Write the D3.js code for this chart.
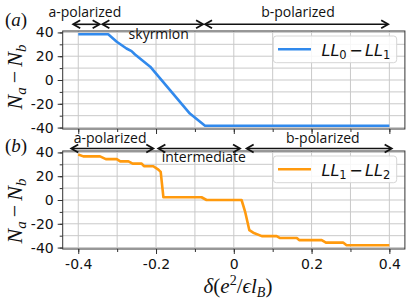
<!DOCTYPE html>
<html>
<head>
<meta charset="utf-8">
<script src="https://cdn.jsdelivr.net/npm/d3@7"></script>
<style>
  html, body { margin: 0; padding: 0; background: #fff; }
  svg { display: block; }
</style>
</head>
<body>
<div id="chart"></div>
<script>
// ---------- data ----------
const xTicks = [-0.4, -0.2, 0, 0.2, 0.4];
const xTickLabels = ["-0.4", "-0.2", "0", "0.2", "0.4"];
const xMinorTicks = [-0.4, -0.3, -0.2, -0.1, 0, 0.1, 0.2, 0.3, 0.4];
const yTicks = [40, 20, 0, -20, -40];
const yTickLabels = ["40", "20", "0", "-20", "-40"];
const yMinorTicks = [40, 30, 20, 10, 0, -10, -20, -30, -40];

// panel (a): LL0 - LL1
const deltaA = [-0.40, -0.323, -0.301, -0.276, -0.263, -0.254, -0.215, -0.164, -0.113, -0.074, 0.40];
const diffA  = [38.5, 38.5, 32.2, 26.5, 24.3, 21.4, 11.2, -8.5, -28.2, -38.5, -38.5];

// panel (b): LL1 - LL2
const deltaB = [-0.400, -0.387, -0.344, -0.329, -0.301, -0.292, -0.271, -0.260, -0.237, -0.231,
                -0.207, -0.194, -0.188, -0.181, -0.083, -0.070, 0.020, 0.029, 0.040, 0.050,
                 0.072, 0.110, 0.119, 0.162, 0.168, 0.226, 0.237, 0.281, 0.290, 0.400];
const diffB  = [38.3, 36.7, 36.7, 34.4, 34.4, 32.5, 32.5, 30.6, 30.6, 28.4,
                28.4, 25.5, 23.6, 2.3, 2.3, 0, 0, -9.7, -25.4, -27.5,
                -30.4, -30.4, -32, -32, -33.7, -33.7, -35.8, -35.8, -38.1, -38.1];

const seriesSubs = [["0", "1"], ["1", "2"]];
const seriesColors = ["#3189ec", "#ff9a0e"];

// phase regions (delta range of the arrow, delta where label is centred)
const phaseNamesA = ["a-polarized", "skyrmion", "b-polarized"];
const phaseFromA  = [-0.413, -0.338, -0.074];
const phaseToA    = [-0.345, -0.079, 0.397];
const phaseTextA  = [-0.383, -0.193, 0.165];
const phaseNamesB = ["a-polarized", "intermediate", "b-polarized"];
const phaseFromB  = [-0.418, -0.194, 0.033];
const phaseToB    = [-0.207, 0.016, 0.406];
const phaseTextB  = [-0.318, -0.077, 0.229];

// ---------- layout ----------
const W = 415, H = 307;
const svg = d3.select("#chart").append("svg").attr("width", W).attr("height", H);

const x = d3.scaleLinear().domain([-0.44, 0.44]).range([62.7, 404.9]);

const panels = [
  { top: 31, bottom: 129, xs: deltaA, ys: diffA, color: seriesColors[0], subs: seriesSubs[0],
    label: "a", names: phaseNamesA, from: phaseFromA, to: phaseToA, tx: phaseTextA,
    arrowY: 24.3, aboveY: 17, belowY: 38.5, labelY: 26, ylabCenter: 77, showX: false },
  { top: 151, bottom: 249, xs: deltaB, ys: diffB, color: seriesColors[1], subs: seriesSubs[1],
    label: "b", names: phaseNamesB, from: phaseFromB, to: phaseToB, tx: phaseTextB,
    arrowY: 148.5, aboveY: 143, belowY: 161.7, labelY: 152, ylabCenter: 211, showX: true }
];

const tickFont = "'DejaVu Sans', sans-serif";
const annFont = "'Open Sans', sans-serif";
const mathFont = "'Liberation Serif', 'DejaVu Serif', serif";

panels.forEach((p, pi) => {
  const y = d3.scaleLinear().domain([-41.2, 41.2]).range([p.bottom, p.top]);
  const g = svg.append("g");

  // grid
  g.selectAll(".vg").data(xMinorTicks).enter().append("line")
    .attr("x1", d => x(d)).attr("x2", d => x(d))
    .attr("y1", p.top).attr("y2", p.bottom)
    .attr("stroke", "#c9c9c9").attr("stroke-width", 1);
  g.selectAll(".hg").data(yMinorTicks).enter().append("line")
    .attr("x1", x.range()[0]).attr("x2", x.range()[1])
    .attr("y1", d => y(d)).attr("y2", d => y(d))
    .attr("stroke", "#c9c9c9").attr("stroke-width", 1);

  // axes (minor ticks)
  const xMinorAxis = d3.axisBottom(x).tickValues(xMinorTicks).tickSize(3).tickFormat("");
  const yMinorAxis = d3.axisLeft(y).tickValues(yMinorTicks).tickSize(3).tickFormat("");
  g.append("g").attr("transform", `translate(0,${p.bottom})`).call(xMinorAxis)
    .call(a => a.select(".domain").remove())
    .selectAll("line").attr("stroke", "#333");
  g.append("g").attr("transform", `translate(${x.range()[0]},0)`).call(yMinorAxis)
    .call(a => a.select(".domain").remove())
    .selectAll("line").attr("stroke", "#333");

  // major ticks
  const xAxis = d3.axisBottom(x).tickValues(xTicks).tickSize(5).tickPadding(5)
    .tickFormat((d, i) => p.showX ? xTickLabels[i] : "");
  const yAxis = d3.axisLeft(y).tickValues(yTicks).tickSize(5).tickPadding(4)
    .tickFormat((d, i) => yTickLabels[i]);
  const xa = g.append("g").attr("transform", `translate(0,${p.bottom})`).call(xAxis);
  xa.select(".domain").remove();
  xa.selectAll("line").attr("stroke", "#333");
  xa.selectAll("text").attr("font-family", tickFont).attr("font-size", 14).attr("fill", "#111")
    .attr("dy", "0.72em");
  const ya = g.append("g").attr("transform", `translate(${x.range()[0]},0)`).call(yAxis);
  ya.select(".domain").remove();
  ya.selectAll("line").attr("stroke", "#333");
  ya.selectAll("text").attr("font-family", tickFont).attr("font-size", 14).attr("fill", "#111");

  // data line
  const pts = p.xs.map((d, i) => [d, p.ys[i]]);
  g.append("path").datum(pts)
    .attr("d", d3.line().x(d => x(d[0])).y(d => y(d[1])))
    .attr("fill", "none").attr("stroke", p.color).attr("stroke-width", 2.6)
    .attr("stroke-linejoin", "round");

  // frame
  g.append("rect").attr("x", x.range()[0]).attr("y", p.top)
    .attr("width", x.range()[1] - x.range()[0]).attr("height", p.bottom - p.top)
    .attr("fill", "none").attr("stroke", "#333").attr("stroke-width", 1);

  // legend
  const lx = 273.3, ly = p.top + 5, lw = 123.4, lh = 26.7;
  g.append("rect").attr("x", lx).attr("y", ly).attr("width", lw).attr("height", lh)
    .attr("rx", 3).attr("fill", "#fff").attr("fill-opacity", 0.85)
    .attr("stroke", "#d6d6d6").attr("stroke-width", 1);
  g.append("line").attr("x1", 278).attr("x2", 311)
    .attr("y1", ly + 13.3).attr("y2", ly + 13.3)
    .attr("stroke", p.color).attr("stroke-width", 2.6);
  const lt = g.append("text").attr("x", 321.5).attr("y", ly + 19.5)
    .attr("font-family", tickFont).attr("font-style", "italic").attr("font-size", 16).attr("fill", "#111");
  lt.append("tspan").text("LL");
  lt.append("tspan").attr("dy", 3).attr("font-size", 11.5).attr("font-style", "normal").text(p.subs[0]);
  lt.append("tspan").attr("dy", -3).attr("dx", 2.5).attr("font-style", "normal").text("−");
  lt.append("tspan").attr("dx", 2.5).text("LL");
  lt.append("tspan").attr("dy", 3).attr("font-size", 11.5).attr("font-style", "normal").text(p.subs[1]);

  // phase arrows
  const hl = 7, hw = 4;
  p.names.forEach((name, i) => {
    const x0 = x(p.from[i]), x1 = x(p.to[i]), ay = p.arrowY;
    g.append("line").attr("x1", x0 + 1).attr("x2", x1 - 1).attr("y1", ay).attr("y2", ay)
      .attr("stroke", "#111").attr("stroke-width", 1.6);
    g.append("path")
      .attr("d", `M${x0 + hl},${ay - hw}L${x0},${ay}L${x0 + hl},${ay + hw}`)
      .attr("fill", "none").attr("stroke", "#111").attr("stroke-width", 1.8);
    g.append("path")
      .attr("d", `M${x1 - hl},${ay - hw}L${x1},${ay}L${x1 - hl},${ay + hw}`)
      .attr("fill", "none").attr("stroke", "#111").attr("stroke-width", 1.8);
    g.append("text").attr("x", x(p.tx[i])).attr("y", i === 1 ? p.belowY : p.aboveY)
      .attr("text-anchor", "middle").attr("font-family", annFont).attr("font-size", 14)
      .attr("fill", "#111").text(name);
  });

  // panel label
  const pl = svg.append("text").attr("x", 5).attr("y", p.labelY)
    .attr("font-family", mathFont).attr("font-size", 19).attr("fill", "#111");
  pl.append("tspan").text("(");
  pl.append("tspan").attr("font-style", "italic").text(p.label);
  pl.append("tspan").text(")");

  // y label
  const yl = svg.append("text")
    .attr("transform", `translate(21.5,${p.ylabCenter}) rotate(-90)`)
    .attr("text-anchor", "middle")
    .attr("font-family", mathFont).attr("font-size", 22).attr("fill", "#111");
  yl.append("tspan").attr("font-style", "italic").text("N");
  yl.append("tspan").attr("font-style", "italic").attr("font-size", 15).attr("dy", 4).text("a");
  yl.append("tspan").attr("dy", -4).attr("dx", 4).text("−");
  yl.append("tspan").attr("dx", 4).attr("font-style", "italic").text("N");
  yl.append("tspan").attr("font-style", "italic").attr("font-size", 15).attr("dy", 4).text("b");
});

// x label
const xl = svg.append("text").attr("x", 238).attr("y", 292.5).attr("text-anchor", "middle")
  .attr("font-family", mathFont).attr("font-size", 21).attr("fill", "#111");
xl.append("tspan").attr("font-style", "italic").text("δ");
xl.append("tspan").text("(");
xl.append("tspan").attr("font-style", "italic").text("e");
xl.append("tspan").attr("font-size", 14).attr("dy", -8).text("2");
xl.append("tspan").attr("dy", 8).text("/");
xl.append("tspan").attr("font-style", "italic").text("ϵl");
xl.append("tspan").attr("font-style", "italic").attr("font-size", 14).attr("dy", 4).text("B");
xl.append("tspan").attr("dy", -4).text(")");
</script>
</body>
</html>
